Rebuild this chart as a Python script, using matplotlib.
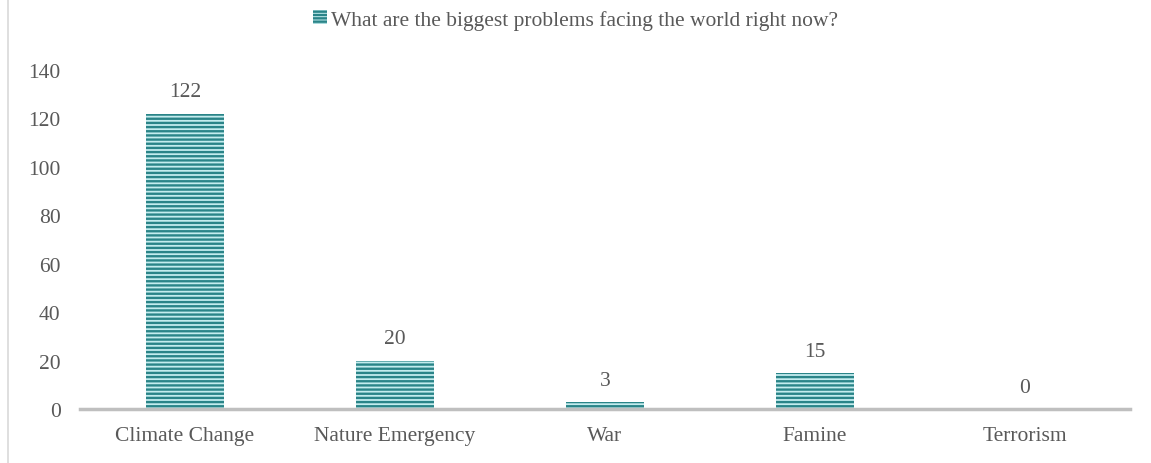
import matplotlib.pyplot as plt
from matplotlib.patches import Rectangle, Patch

categories = ["Climate Change", "Nature Emergency", "War", "Famine", "Terrorism"]
counts = [122, 20, 3, 15, 0]
series_name = "What are the biggest problems facing the world right now?"

plt.rcParams['font.family'] = ['Liberation Serif', 'DejaVu Serif']
plt.rcParams['hatch.linewidth'] = 1.7
plt.rcParams['hatch.color'] = '#2A8488'

text_col = '#595959'
teal = '#2A8488'
pale = '#C4ECEE'
fs = 15.5

fig = plt.figure(figsize=(11.51, 4.64), dpi=100)
ax = fig.add_axes([0.0695, 0.1164, 0.9123, 0.7306])

x = range(len(categories))
bars = ax.bar(x, counts, width=0.37, color=pale, edgecolor=teal, linewidth=0,
              hatch='----')

for xi, v in zip(x, counts):
    ax.text(xi, v + 5, str(v), ha='center', va='bottom', fontsize=fs, color=text_col)

ax.set_xlim(-0.5, len(categories) - 0.5)
ax.set_ylim(0, 140)
ax.set_yticks(range(0, 141, 20))
ax.set_xticks(list(x))
ax.set_xticklabels(categories)
ax.tick_params(axis='both', length=0, labelsize=fs, colors=text_col)
ax.tick_params(axis='y', pad=14)
ax.tick_params(axis='x', pad=12)
for s in ['top', 'right', 'left']:
    ax.spines[s].set_visible(False)
ax.spines['bottom'].set_color('#BFBFBF')
ax.spines['bottom'].set_linewidth(2.5)

handle = Patch(facecolor=pale, edgecolor=teal, hatch='-----', linewidth=0)
fig.legend([handle], [series_name], loc='center', bbox_to_anchor=(0.5, 0.955),
           frameon=False, fontsize=fs, labelcolor=text_col, handlelength=0.65,
           handleheight=0.65, handletextpad=0.2)

fig.patches.append(Rectangle((0.007, -0.01), 1.0, 1.02, transform=fig.transFigure,
                             fill=False, edgecolor='#D9D9D9', linewidth=1.2))

fig.savefig('out.png', dpi=100)
